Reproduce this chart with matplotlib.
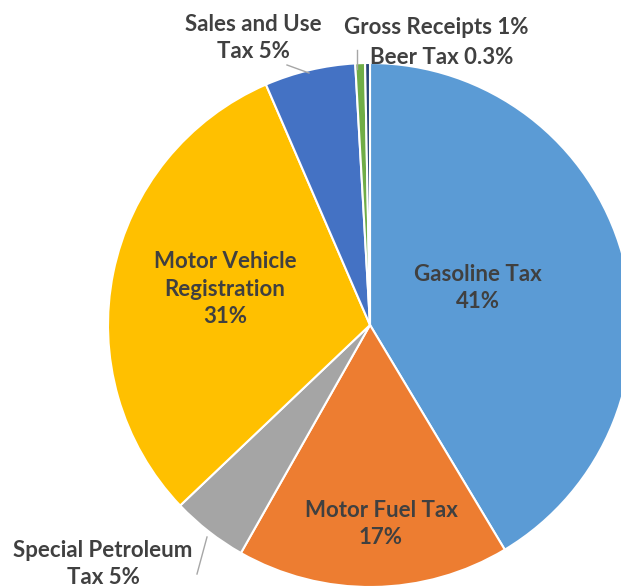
import matplotlib
matplotlib.use("Agg")
import matplotlib.pyplot as plt

labels = ['Gasoline Tax', 'Motor Fuel Tax', 'Special Petroleum Tax',
          'Motor Vehicle Registration', 'Sales and Use Tax',
          'Gross Receipts', 'Beer Tax']
values = [41.4, 16.8, 4.7, 30.6, 5.6, 0.6, 0.3]
pct_text = ['41%', '17%', '5%', '31%', '5%', '1%', '0.3%']
colors = ['#5B9BD5', '#ED7D31', '#A5A5A5', '#FFC000', '#4472C4', '#70AD47', '#264478']

W, H = 621, 588
cx, cy, R = 370, 325, 262


def px(x, y):
    # pixel position (from top-left) -> data coords
    return (x - cx) / R, (cy - y) / R


plt.rcParams['font.family'] = ['Lato', 'DejaVu Sans']

fig = plt.figure(figsize=(W / 100, H / 100), dpi=100)
ax = fig.add_axes([0, 0, 1, 1])
ax.pie(values, colors=colors, startangle=90, counterclock=False,
       wedgeprops=dict(edgecolor='white', linewidth=1.5))
ax.set_aspect('auto')
ax.set_xlim(-cx / R, (W - cx) / R)
ax.set_ylim(-(H - cy) / R, cy / R)
ax.axis('off')

tc = '#404040'
fs = 16
kw = dict(ha='center', va='center', color=tc, fontsize=fs, fontweight='bold',
          linespacing=1.38)

# labels inside the wedges
ax.text(*px(478, 288), 'Gasoline Tax\n' + pct_text[0], **kw)
ax.text(*px(381, 524), 'Motor Fuel Tax\n' + pct_text[1], **kw)
ax.text(*px(225, 289), 'Motor Vehicle\nRegistration\n' + pct_text[3], **kw)

# labels outside with leader lines
ax.text(*px(253, 38), 'Sales and Use\nTax ' + pct_text[4], **kw)
ax.text(*px(436, 27), 'Gross Receipts ' + pct_text[5], **kw)
ax.text(*px(442, 57), 'Beer Tax ' + pct_text[6], **kw)
ax.text(*px(103, 564), 'Special Petroleum\nTax ' + pct_text[2], **kw)

lc = '#A6A6A6'
for (x0, y0), (x1, y1) in [((287, 65), (309, 73)),
                           ((357, 50), (357, 69)),
                           ((207, 537), (197, 574))]:
    a = px(x0, y0)
    b = px(x1, y1)
    ax.plot([a[0], b[0]], [a[1], b[1]], color=lc, linewidth=1)

fig.savefig('out.png', dpi=100)
